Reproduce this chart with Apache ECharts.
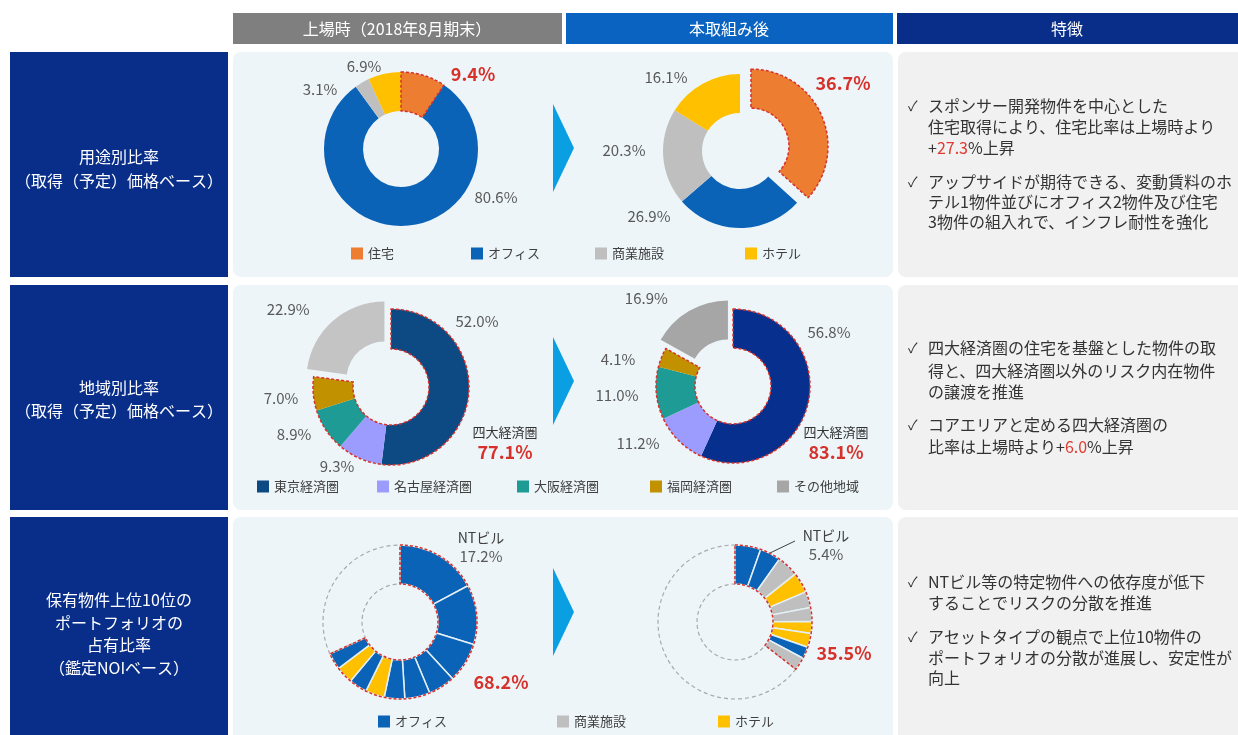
<!DOCTYPE html>
<html>
<head>
<meta charset="UTF-8">
<title>ポートフォリオ比率の変化</title>
<script src="https://cdn.jsdelivr.net/npm/echarts@6/dist/echarts.min.js"></script>
<style>
  html, body { margin: 0; padding: 0; background: #fff; }
  #chart { width: 1238px; height: 735px; }
</style>
</head>
<body>
<div id="chart"></div>
<script type="text/javascript">
    // 用途別比率
    var usageNames = ['住宅', 'オフィス', '商業施設', 'ホテル'];
    var usageBefore = [9.4, 80.6, 3.1, 6.9];
    var usageAfter = [36.7, 26.9, 20.3, 16.1];

    // 地域別比率
    var areaNames = ['東京経済圏', '名古屋経済圏', '大阪経済圏', '福岡経済圏', 'その他地域'];
    var areaBefore = [52.0, 9.3, 8.9, 7.0, 22.9];
    var areaAfter = [56.8, 11.2, 11.0, 4.1, 16.9];
    var coreShare = [77.1, 83.1];

    // 上位10物件 (鑑定NOIベース)
    var top10Legend = ['オフィス', '商業施設', 'ホテル'];
    var top10Before = [17.2, 12.5, 8.4, 5.6, 5.3, 4.3, 4.0, 3.8, 3.6, 3.5];
    var top10BeforeType = ['オフィス', 'オフィス', 'オフィス', 'オフィス', 'オフィス', 'オフィス', 'ホテル', 'オフィス', 'ホテル', 'オフィス'];
    var top10After = [5.4, 4.4, 4.5, 4.3, 3.4, 2.9, 2.5, 2.9, 2.5, 2.7];
    var top10AfterType = ['オフィス', 'オフィス', '商業施設', 'ホテル', '商業施設', '商業施設', 'ホテル', 'ホテル', 'オフィス', '商業施設'];
    var top10Share = [68.2, 35.5];
    var ntName = 'NTビル';

    var FONT = "'Noto Sans CJK JP', 'Noto Sans', sans-serif";
    var RED = '#d7312b';
    var GREY_TXT = '#595959';
    var typeColor = {'住宅': '#ed7d31', 'オフィス': '#0b63b7', '商業施設': '#bfbfbf', 'ホテル': '#ffc000'};
    var areaColorBefore = ['#0d4983', '#9c9cff', '#1d9b94', '#c29100', '#c4c4c4'];
    var areaColorAfter = ['#062f8e', '#9c9cff', '#1d9b94', '#c29100', '#a6a6a6'];

    // ラベル位置 (px)  ※切り出し扇形はずらし量の分を見込んでいる
    var LBL = {
        usageBefore: [[473, 74], [496, 197], [320, 89], [364, 66]],
        usageAfter: [null, [649, 216], [624, 150], [666, 77]],
        usageAfterKey: [[843, 83]],
        areaBefore: [[477, 321], [337, 466], [294, 434], [281, 398], [312, 330]],
        areaAfter: [[829, 332], [638, 443], [617, 395], [618, 359], [656, 313]],
        coreBefore: [[505, 443]],
        coreAfter: [[836, 443]],
        ntBefore: [[481, 547]],
        ntAfter: [[826, 545]],
        shareBefore: [[501, 682]],
        shareAfter: [[844, 653]]
    };

    function pct(p) {
        return p.value.toFixed(1) + '%';
    }

    function placeAt(list, lines) {
        return function (p) {
            var q = list[p.dataIndex];
            if (!q) return {};
            var r = {x: q[0], y: q[1], align: 'center', verticalAlign: 'middle'};
            if (lines && lines[p.dataIndex]) r.labelLinePoints = lines[p.dataIndex];
            return r;
        };
    }

    function pieBase(center, r) {
        return {
            type: 'pie',
            center: center,
            radius: [38, r || 77],
            startAngle: 90,
            avoidLabelOverlap: false,
            emphasis: {disabled: true},
            labelLine: {show: false},
            label: {show: false}
        };
    }

    var grayLabel = {show: true, position: 'outside', formatter: pct, color: GREY_TXT, fontSize: 15, fontFamily: FONT};
    var redLabel = {show: true, position: 'outside', color: RED, fontSize: 18, fontWeight: 'bold', fontFamily: FONT};
    var invisible = {color: 'rgba(0,0,0,0)', borderWidth: 0};
    var redDash = {color: 'rgba(0,0,0,0)', borderColor: RED, borderWidth: 1.5, borderType: [3, 2]};

    // 赤い破線の枠 (ラベルも持たせる)
    function outline(center, r, groupValue, restValue, border, label, layout) {
        var s = pieBase(center, r);
        s.silent = true;
        s.data = [
            {value: groupValue, itemStyle: border ? redDash : invisible, label: label || {show: false}},
            {value: restValue, itemStyle: invisible}
        ];
        if (layout) s.labelLayout = layout;
        return s;
    }

    function usageSeries(center, values, exploded, pos) {
        var s = pieBase(center, 77);
        s.selectedMode = exploded ? 'single' : false;
        s.selectedOffset = 12;
        s.label = grayLabel;
        s.labelLayout = placeAt(pos);
        s.data = usageNames.map(function (n, i) {
            var d = {name: n, value: values[i], itemStyle: {color: typeColor[n]}};
            if (i === 0) {
                if (exploded) {
                    d.selected = true;
                    d.label = {show: false};
                    d.itemStyle = {color: typeColor[n], borderColor: RED, borderWidth: 1.5, borderType: [3, 2]};
                } else {
                    d.label = redLabel;
                }
            }
            return d;
        });
        return s;
    }

    function areaSeries(center, r, values, colors, pos) {
        var s = pieBase(center, r);
        s.selectedMode = 'single';
        s.selectedOffset = 10;
        s.label = grayLabel;
        s.labelLayout = placeAt(pos);
        s.data = areaNames.map(function (n, i) {
            return {name: n, value: values[i], itemStyle: {color: colors[i]}, selected: i === areaNames.length - 1};
        });
        return s;
    }

    function top10Series(center, values, types, pos, lines) {
        var s = pieBase(center, 77);
        s.labelLayout = placeAt(pos, lines);
        var sum = 0;
        s.data = values.map(function (v, i) {
            sum += v;
            return {
                name: i === 0 ? ntName : '物件' + (i + 1),
                value: v,
                itemStyle: {color: typeColor[types[i]], borderColor: '#e4f0f6', borderWidth: 1.5}
            };
        });
        s.data[0].label = {
            show: true, position: 'outside',
            formatter: function (p) { return '{n|' + p.name + '}\n{v|' + p.value.toFixed(1) + '%}'; },
            rich: {
                n: {fontSize: 14, color: '#404040', fontFamily: FONT, lineHeight: 18},
                v: {fontSize: 15, color: GREY_TXT, fontFamily: FONT, lineHeight: 18}
            }
        };
        if (lines) s.data[0].labelLine = {show: true, lineStyle: {color: '#404040', width: 1}};
        s.data.push({
            name: 'その他物件', value: 100 - sum,
            itemStyle: {color: 'rgba(0,0,0,0)', borderColor: '#a9a9a9', borderWidth: 1.2, borderType: [4, 3]}
        });
        return s;
    }

    function sumFirst(arr, n) {
        var t = 0;
        for (var i = 0; i < n; i++) t += arr[i];
        return t;
    }

    function coreLabel(v) {
        return {
            show: true, position: 'outside',
            formatter: '{s|四大経済圏}\n{r|' + v.toFixed(1) + '%}',
            rich: {
                s: {fontSize: 13, color: '#333', fontFamily: FONT, lineHeight: 18},
                r: {fontSize: 18, color: RED, fontWeight: 'bold', fontFamily: FONT, lineHeight: 22}
            }
        };
    }

    function valueLabel(v) {
        return Object.assign({}, redLabel, {formatter: v.toFixed(1) + '%'});
    }

    // ---- 背景・見出し ----
    function box(x, y, w, h, fill, r) {
        return {type: 'rect', z: -10, silent: true, shape: {x: x, y: y, width: w, height: h, r: r || 0}, style: {fill: fill}};
    }

    function txt(x, y, s, size, fill, align) {
        return {type: 'text', z: -5, silent: true, x: x, y: y,
            style: {text: s, font: size + 'px ' + FONT, fill: fill, textAlign: align || 'left', textVerticalAlign: 'middle'}};
    }

    function richTxt(x, y, s, size) {
        return {type: 'text', z: -5, silent: true, x: x, y: y,
            style: {text: s, font: size + 'px ' + FONT, fill: '#333', textVerticalAlign: 'middle',
                rich: {d: {fill: '#333', font: size + 'px ' + FONT}, r: {fill: '#e03a31', font: size + 'px ' + FONT}}}};
    }

    var rows = [[52, 225], [285, 225], [517, 230]];
    var graphics = [
        box(233, 13, 329, 31, '#7f7f7f'),
        txt(397, 29, '上場時（2018年8月期末）', 16, '#fff', 'center'),
        box(566, 13, 327, 31, '#0a63c0'),
        txt(729, 29, '本取組み後', 16, '#fff', 'center'),
        box(897, 13, 345, 31, '#082e8a'),
        txt(1067, 29, '特徴', 16, '#fff', 'center')
    ];
    rows.forEach(function (r) {
        graphics.push(box(10, r[0], 218, r[1], '#082e8a'));
        graphics.push(box(233, r[0], 660, r[1], '#edf5f9', 8));
        graphics.push(box(898, r[0], 350, r[1], '#f1f1f1', 8));
        var mid = r[0] + 96 - (r === rows[2] ? 1 : 0);
        graphics.push({type: 'polygon', z: -5, silent: true,
            shape: {points: [[553, mid - 44], [574, mid], [553, mid + 44]]}, style: {fill: '#0a9fe2'}});
    });

    var sideText = [
        [[157, '用途別比率'], [181, '（取得（予定）価格ベース）']],
        [[388, '地域別比率'], [411, '（取得（予定）価格ベース）']],
        [[600, '保有物件上位10位の'], [623, 'ポートフォリオの'], [645, '占有比率'], [668, '（鑑定NOIベース）']]
    ];
    sideText.forEach(function (g) {
        g.forEach(function (l) { graphics.push(txt(119, l[0], l[1], 16, '#fff', 'center')); });
    });

    var usageUp = (usageAfter[0] - usageBefore[0]).toFixed(1);
    var coreUp = (coreShare[1] - coreShare[0]).toFixed(1);
    var features = [
        [106, true, 'スポンサー開発物件を中心とした'],
        [127, false, '住宅取得により、住宅比率は上場時より'],
        [148, false, '{d|+}{r|' + usageUp + '}{d|%上昇}', true],
        [182, true, 'アップサイドが期待できる、変動賃料のホ'],
        [202, false, 'テル1物件並びにオフィス2物件及び住宅'],
        [222, false, '3物件の組入れで、インフレ耐性を強化'],
        [348, true, '四大経済圏の住宅を基盤とした物件の取'],
        [371, false, '得と、四大経済圏以外のリスク内在物件'],
        [392, false, 'の譲渡を推進'],
        [425, true, 'コアエリアと定める四大経済圏の'],
        [447, false, '{d|比率は上場時より+}{r|' + coreUp + '}{d|%上昇}', true],
        [582, true, 'NTビル等の特定物件への依存度が低下'],
        [603, false, 'することでリスクの分散を推進'],
        [637, true, 'アセットタイプの観点で上位10物件の'],
        [658, false, 'ポートフォリオの分散が進展し、安定性が'],
        [678, false, '向上']
    ];
    features.forEach(function (f) {
        if (f[1]) graphics.push(txt(908, f[0], '✓', 14, '#333'));
        graphics.push(f[3] ? richTxt(928, f[0], f[2], 16) : txt(928, f[0], f[2], 16, '#333'));
    });

    // ---- 凡例 (項目ごとに1つずつ置いて間隔を合わせる) ----
    function makeLegends(names, lefts, top, colors) {
        return names.map(function (n, i) {
            var d = {name: n};
            if (colors && colors[i]) d.itemStyle = {color: colors[i]};
            return {
                orient: 'horizontal', icon: 'rect', itemWidth: 12, itemHeight: 12,
                padding: 0, selectedMode: false, left: lefts[i], top: top,
                textStyle: {fontSize: 13, color: '#404040', fontFamily: FONT},
                data: [d]
            };
        });
    }

    var legends = [].concat(
        makeLegends(usageNames, [351, 471, 595, 745], 247),
        makeLegends(areaNames, [257, 377, 517, 650, 777], 480, [null, null, null, null, '#a6a6a6']),
        makeLegends(top10Legend, [378, 557, 718], 715)
    );

    var option = {
        animation: false,
        backgroundColor: '#ffffff',
        graphic: graphics,
        legend: legends,
        series: [
            usageSeries([401, 149], usageBefore, false, LBL.usageBefore),
            outline([401, 149], 77, usageBefore[0], 100 - usageBefore[0], true),
            usageSeries([740, 151], usageAfter, true, LBL.usageAfter),
            outline([740, 151], 77, usageAfter[0], 100 - usageAfter[0], false,
                valueLabel(usageAfter[0]), placeAt(LBL.usageAfterKey)),

            areaSeries([391, 387], 78, areaBefore, areaColorBefore, LBL.areaBefore),
            outline([391, 387], 78, sumFirst(areaBefore, 4), areaBefore[4], true,
                coreLabel(coreShare[0]), placeAt(LBL.coreBefore)),
            areaSeries([733, 386], 77, areaAfter, areaColorAfter, LBL.areaAfter),
            outline([733, 386], 77, sumFirst(areaAfter, 4), areaAfter[4], true,
                coreLabel(coreShare[1]), placeAt(LBL.coreAfter)),

            top10Series([400, 622], top10Before, top10BeforeType, LBL.ntBefore),
            outline([400, 622], 77, top10Share[0], 100 - top10Share[0], true,
                valueLabel(top10Share[0]), placeAt(LBL.shareBefore)),
            top10Series([735, 622], top10After, top10AfterType, LBL.ntAfter,
                [[[746, 566], [770, 553], [795, 541]]]),
            outline([735, 622], 77, top10Share[1], 100 - top10Share[1], true,
                valueLabel(top10Share[1]), placeAt(LBL.shareAfter))
        ]
    };

    var myChart = echarts.init(document.getElementById('chart'));
    myChart.setOption(option);
</script>
</body>
</html>
